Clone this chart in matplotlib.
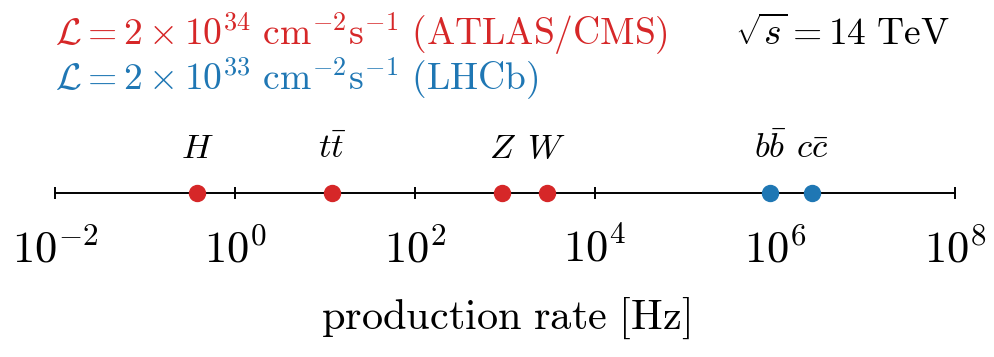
import matplotlib
matplotlib.use('Agg')
import matplotlib.pyplot as plt

plt.rcParams['mathtext.fontset'] = 'cm'
plt.rcParams['font.family'] = 'serif'
plt.rcParams['font.serif'] = ['cmr10']
plt.rcParams['axes.unicode_minus'] = False

# production rates in Hz
names = [r'$H$', r'$t\bar{t}$', r'$Z$', r'$W$', r'$b\bar{b}$', r'$c\bar{c}$']
rates = [0.38, 12, 930, 2900, 8.8e5, 2.6e6]
colors = ['#d62728', '#d62728', '#d62728', '#d62728', '#1f77b4', '#1f77b4']

exponents = [-2, 0, 2, 4, 6, 8]
tick_vals = [10.0 ** e for e in exponents]
tick_labels = [rf'$10^{{{e}}}$' for e in exponents]

fig = plt.figure(figsize=(9.95, 3.57), dpi=100)
ax = fig.add_axes([55 / 995, 164 / 357, 900 / 995, 0.3])

ax.set_xscale('log')
ax.set_xlim(tick_vals[0], tick_vals[-1])
ax.set_ylim(0, 1)
for side in ['top', 'left', 'right']:
    ax.spines[side].set_visible(False)
ax.spines['bottom'].set_linewidth(1.4)
ax.set_yticks([])
ax.set_xticks(tick_vals, labels=tick_labels)
ax.xaxis.set_minor_locator(matplotlib.ticker.NullLocator())
ax.tick_params(axis='x', direction='inout', length=9, width=1.4, pad=21, labelsize=32)
ax.patch.set_visible(False)

for name, r, c in zip(names, rates, colors):
    ax.plot(r, 0, 'o', color=c, markersize=11.5, clip_on=False, zorder=3)
    ax.annotate(name, (r, 0), xytext=(0, 25), textcoords='offset points',
                ha='center', va='baseline', fontsize=25)

ax.set_xlabel(r'$\mathrm{production\ rate\ [Hz]}$', fontsize=30.5, labelpad=18)

fig.text(55 / 995, 1 - 45 / 357,
         r'$\mathcal{L} = 2\times10^{34}\ \mathrm{cm}^{-2}\mathrm{s}^{-1}\ \mathrm{(ATLAS/CMS)}$',
         color='#d62728', fontsize=27, va='baseline')
fig.text(55 / 995, 1 - 90 / 357,
         r'$\mathcal{L} = 2\times10^{33}\ \mathrm{cm}^{-2}\mathrm{s}^{-1}\ \mathrm{(LHCb)}$',
         color='#1f77b4', fontsize=27, va='baseline')
fig.text(950 / 995, 1 - 45 / 357, r'$\sqrt{s} = 14\ \mathrm{TeV}$',
         color='black', fontsize=27, va='baseline', ha='right')

fig.savefig('out.png', dpi=100)
